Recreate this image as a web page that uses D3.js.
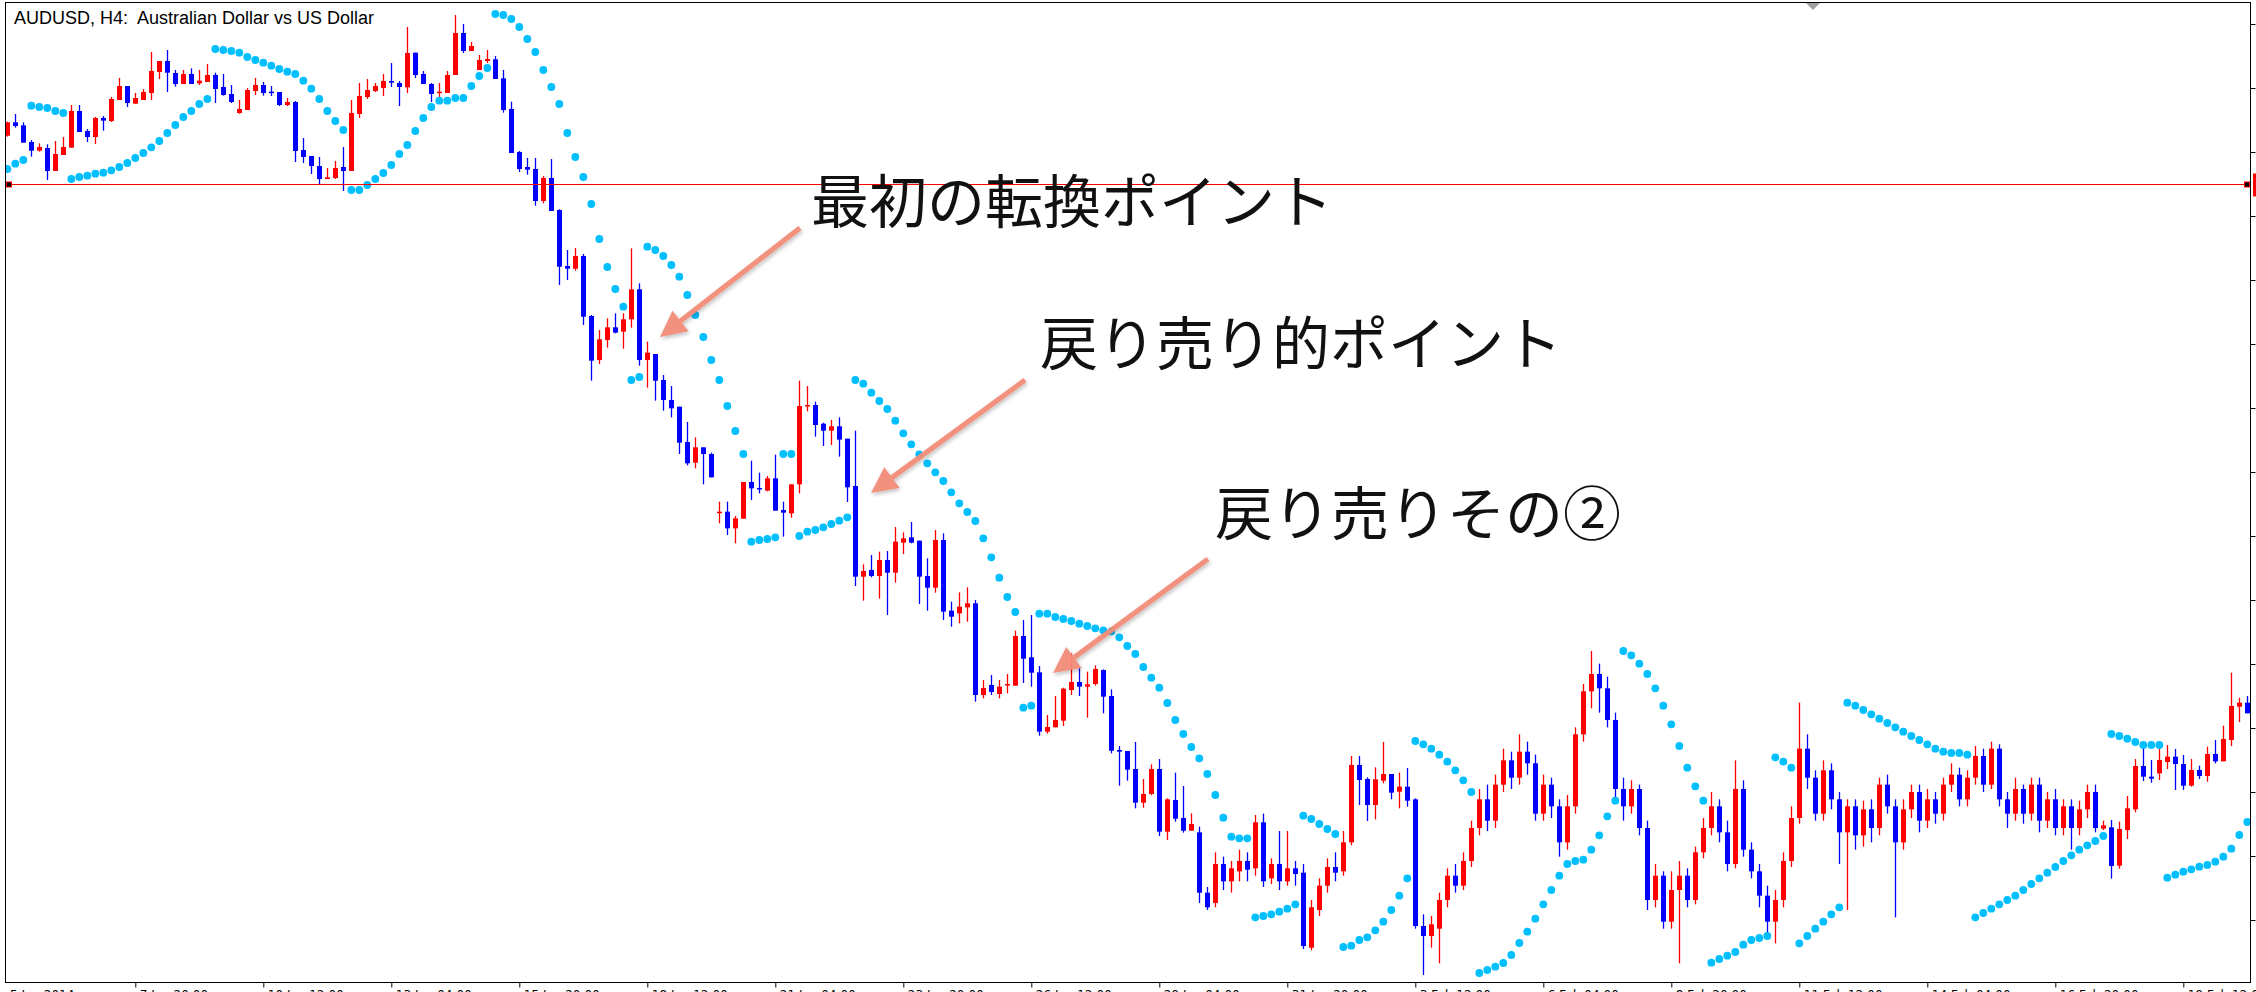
<!DOCTYPE html>
<html><head><meta charset="utf-8">
<script src="https://cdn.jsdelivr.net/npm/d3@7/dist/d3.min.js"></script>
<style>html,body{margin:0;padding:0;background:#fff;overflow:hidden}</style>
</head><body>
<svg id="chart" width="2256" height="992"></svg>
<script>
const opens = [.89593,.89633,.89624,.89574,.89548,.89556,.89487,.89535,.89557,.89667,
.89607,.89589,.89646,.89637,.89700,.89742,.89689,.89700,.89721,.89784,
.89817,.89781,.89748,.89778,.89750,.89754,.89775,.89739,.89718,.89661,
.89670,.89727,.89745,.89725,.89724,.89685,.89694,.89550,.89532,.89502,
.89463,.89466,.89499,.89487,.89658,.89709,.89727,.89736,.89757,.89751,
.89738,.89842,.89778,.89748,.89721,.89721,.89775,.89901,.89847,.89790,
.89817,.89822,.89765,.89673,.89544,.89499,.89493,.89397,.89466,.89370,
.89202,.89194,.89232,.89052,.88920,.88980,.89018,.89005,.89042,.89132,
.88920,.88938,.88860,.88800,.88780,.88674,.88612,.88658,.88638,.88462,
.88465,.88415,.88444,.88554,.88536,.88528,.88565,.88470,.88460,.88547,
.88782,.88785,.88729,.88708,.88721,.88684,.88542,.88270,.88290,.88272,
.88320,.88282,.88372,.88388,.88378,.88272,.88237,.88380,.88168,.88160,
.88178,.88190,.87915,.87945,.87918,.87945,.87943,.88092,.88028,.87983,
.87805,.87818,.87838,.87930,.87954,.87940,.87948,.87990,.87912,.87750,
.87747,.87693,.87592,.87618,.87693,.87505,.87600,.87546,.87508,
.87503,.87322,.87291,.87408,.87356,.87386,.87417,.87395,.87533,.87365,
.87408,.87356,.87395,.87382,.87157,.87270,.87343,.87399,.87386,.87473,
.87705,.87663,.87585,.87658,.87678,.87625,.87640,.87602,.87222,.87192,
.87214,.87300,.87373,.87343,.87417,.87516,.87602,.87538,.87646,.87719,
.87667,.87745,.87710,.87559,.87646,.87581,.87473,.87581,.87797,.87926,
.87978,.87935,.87840,.87633,.87581,.87633,.87516,.87300,.87373,.87235,
.87330,.87373,.87300,.87443,.87516,.87581,.87503,.87408,.87633,.87451,
.87386,.87313,.87235,.87300,.87417,.87546,.87754,.87667,.87559,.87689,
.87602,.87503,.87581,.87494,.87572,.87516,.87646,.87581,.87473,.87572,
.87624,.87538,.87602,.87559,.87646,.87676,.87602,.87667,.87732,.87646,
.87754,.87602,.87559,.87633,.87559,.87646,.87538,.87602,.87516,.87581,
.87516,.87572,.87624,.87514,.87518,.87403,.87510,.87572,.87702,.87670,
.87680,.87714,.87730,.87708,.87643,.87690,.87672,.87738,.87716,.87780,
.87880,.87892];
const closes = [.89633,.89622,.89572,.89548,.89559,.89487,.89538,.89559,.89667,.89604,
.89589,.89646,.89638,.89703,.89742,.89691,.89706,.89724,.89787,.89817,
.89782,.89748,.89778,.89748,.89758,.89775,.89733,.89715,.89694,.89673,
.89730,.89745,.89721,.89723,.89685,.89694,.89547,.89529,.89502,.89463,
.89468,.89496,.89487,.89661,.89712,.89730,.89742,.89757,.89752,.89739,
.89841,.89775,.89748,.89718,.89725,.89775,.89901,.89847,.89862,.89820,
.89823,.89763,.89670,.89541,.89493,.89491,.89397,.89466,.89367,.89200,
.89194,.89232,.89050,.88918,.88982,.89018,.89002,.89042,.89132,.88920,
.88942,.88858,.88800,.88775,.88672,.88610,.88658,.88638,.88568,.88465,
.88415,.88445,.88554,.88535,.88532,.88565,.88468,.88462,.88547,.88782,
.88785,.88725,.88708,.88721,.88681,.88538,.88270,.88287,.88272,.88320,
.88282,.88375,.88385,.88372,.88270,.88237,.88380,.88165,.88150,.88180,
.88190,.87915,.87936,.87924,.87940,.87948,.88092,.88024,.87982,.87805,
.87819,.87840,.87934,.87954,.87940,.87947,.87993,.87910,.87748,.87745,
.87691,.87592,.87618,.87693,.87505,.87602,.87544,.87508,.87528,
.87322,.87278,.87408,.87356,.87395,.87417,.87391,.87533,.87356,.87408,
.87356,.87395,.87378,.87162,.87278,.87343,.87399,.87382,.87473,.87705,
.87660,.87585,.87662,.87678,.87622,.87640,.87598,.87222,.87192,.87227,
.87300,.87373,.87343,.87417,.87516,.87602,.87538,.87646,.87719,.87667,
.87745,.87710,.87559,.87646,.87581,.87473,.87581,.87797,.87926,.87978,
.87935,.87840,.87633,.87581,.87633,.87516,.87300,.87373,.87235,.87330,
.87373,.87300,.87443,.87516,.87581,.87503,.87408,.87633,.87451,.87386,
.87313,.87235,.87300,.87417,.87546,.87754,.87667,.87559,.87689,.87602,
.87503,.87581,.87494,.87572,.87516,.87646,.87581,.87473,.87572,.87624,
.87538,.87602,.87559,.87646,.87676,.87602,.87667,.87732,.87646,.87754,
.87602,.87559,.87633,.87559,.87646,.87538,.87602,.87516,.87581,.87516,
.87572,.87624,.87516,.87524,.87402,.87513,.87575,.87702,.87670,.87664,
.87720,.87730,.87708,.87643,.87690,.87672,.87738,.87716,.87783,.87882,
.87892,.87860];
const highs = [.89635,.89658,.89633,.89580,.89570,.89567,.89577,.89589,.89685,.89685,
.89613,.89649,.89652,.89709,.89766,.89742,.89721,.89733,.89844,.89817,
.89850,.89790,.89790,.89795,.89790,.89808,.89782,.89778,.89745,.89700,
.89736,.89766,.89754,.89742,.89724,.89706,.89697,.89586,.89532,.89529,
.89496,.89517,.89559,.89700,.89751,.89763,.89751,.89778,.89811,.89757,
.89919,.89842,.89787,.89751,.89751,.89787,.89955,.89928,.89874,.89835,
.89850,.89832,.89790,.89695,.89547,.89526,.89526,.89472,.89523,.89372,
.89250,.89256,.89238,.89055,.89010,.89045,.89060,.89060,.89255,.89150,
.88975,.88938,.88875,.88842,.88780,.88734,.88688,.88658,.88642,.88495,
.88495,.88452,.88554,.88618,.88582,.88572,.88636,.88495,.88547,.88858,
.88842,.88795,.88732,.88740,.88748,.88684,.88708,.88307,.88335,.88345,
.88347,.88419,.88403,.88434,.88378,.88325,.88410,.88400,.88195,.88223,
.88238,.88200,.87960,.87975,.87960,.87978,.88108,.88140,.88155,.88002,
.87855,.87912,.87937,.88040,.87998,.87985,.88004,.87992,.87932,.87762,
.87747,.87774,.87663,.87707,.87723,.87605,.87682,.87642,.87560,
.87520,.87339,.87443,.87430,.87417,.87451,.87443,.87555,.87559,.87425,
.87507,.87507,.87417,.87408,.87300,.87365,.87425,.87443,.87507,.87732,
.87732,.87668,.87698,.87774,.87678,.87682,.87696,.87605,.87257,.87252,
.87322,.87395,.87408,.87443,.87538,.87633,.87646,.87676,.87754,.87745,
.87797,.87775,.87736,.87676,.87667,.87602,.87615,.87818,.87948,.88047,
.88009,.87970,.87862,.87667,.87659,.87646,.87538,.87408,.87386,.87386,
.87417,.87395,.87460,.87546,.87624,.87602,.87538,.87719,.87659,.87473,
.87408,.87343,.87330,.87443,.87581,.87892,.87797,.87689,.87719,.87710,
.87624,.87602,.87602,.87598,.87602,.87667,.87676,.87602,.87602,.87646,
.87646,.87633,.87624,.87667,.87710,.87697,.87689,.87762,.87754,.87775,
.87767,.87624,.87667,.87646,.87667,.87667,.87624,.87633,.87602,.87602,
.87598,.87646,.87646,.87538,.87540,.87535,.87612,.87723,.87755,.87720,
.87755,.87765,.87753,.87735,.87723,.87703,.87760,.87780,.87823,.87982,
.87907,.87912];
const lows = [.89590,.89617,.89572,.89530,.89545,.89460,.89487,.89535,.89557,.89604,
.89574,.89568,.89608,.89634,.89700,.89679,.89689,.89700,.89700,.89763,
.89724,.89740,.89748,.89748,.89745,.89754,.89691,.89713,.89691,.89659,
.89670,.89715,.89713,.89712,.89682,.89682,.89514,.89511,.89478,.89448,
.89463,.89463,.89427,.89487,.89646,.89703,.89724,.89712,.89739,.89682,
.89721,.89766,.89748,.89694,.89694,.89721,.89775,.89841,.89847,.89790,
.89811,.89763,.89662,.89541,.89484,.89476,.89383,.89390,.89367,.89145,
.89160,.89188,.89025,.88858,.88908,.88957,.89000,.88954,.89017,.88903,
.88837,.88798,.88768,.88748,.88638,.88604,.88595,.88547,.88568,.88430,
.88395,.88370,.88444,.88500,.88520,.88526,.88468,.88390,.88447,.88520,
.88766,.88690,.88662,.88665,.88630,.88494,.88242,.88198,.88268,.88204,
.88155,.88252,.88338,.88370,.88188,.88168,.88222,.88140,.88120,.88130,
.88135,.87895,.87905,.87915,.87905,.87920,.87943,.87951,.87940,.87793,
.87799,.87818,.87822,.87915,.87912,.87847,.87943,.87860,.87740,.87643,
.87658,.87575,.87577,.87614,.87492,.87480,.87535,.87502,.87508,
.87291,.87270,.87278,.87330,.87322,.87356,.87356,.87373,.87339,.87348,
.87330,.87343,.87343,.87153,.87149,.87252,.87322,.87356,.87373,.87464,
.87585,.87537,.87542,.87650,.87602,.87575,.87580,.87214,.87075,.87157,
.87110,.87278,.87322,.87330,.87399,.87494,.87507,.87516,.87624,.87633,
.87646,.87676,.87538,.87538,.87546,.87430,.87451,.87559,.87775,.87875,
.87862,.87818,.87602,.87538,.87559,.87494,.87270,.87278,.87214,.87214,
.87110,.87278,.87287,.87425,.87494,.87473,.87386,.87395,.87430,.87365,
.87278,.87201,.87170,.87278,.87399,.87529,.87633,.87538,.87538,.87572,
.87408,.87270,.87451,.87460,.87473,.87494,.87559,.87248,.87451,.87546,
.87503,.87516,.87529,.87538,.87624,.87581,.87581,.87646,.87624,.87633,
.87581,.87516,.87538,.87529,.87538,.87503,.87516,.87494,.87494,.87451,
.87494,.87546,.87503,.87510,.87364,.87394,.87483,.87563,.87657,.87652,
.87660,.87693,.87630,.87630,.87640,.87663,.87655,.87710,.87716,.87762,
.87834,.87860];
const sar = [.89493,.89509,.89520,.89683,.89679,.89676,.89667,.89661,.89463,.89469,
.89473,.89479,.89482,.89489,.89499,.89511,.89526,.89541,.89558,.89577,
.89601,.89625,.89649,.89667,.89688,.89703,.89853,.89850,.89847,.89842,
.89829,.89820,.89812,.89803,.89793,.89785,.89778,.89758,.89734,.89703,
.89667,.89637,.89610,.89430,.89430,.89445,.89463,.89481,.89505,.89538,
.89565,.89607,.89646,.89679,.89698,.89698,.89706,.89706,.89742,.89772,
.89796,.89958,.89955,.89943,.89919,.89883,.89844,.89790,.89739,.89688,
.89601,.89529,.89469,.89388,.89283,.89199,.89133,.89080,.88860,.88869,
.89260,.89250,.89232,.89205,.89170,.89115,.89055,.88989,.88920,.88860,
.88782,.88707,.88638,.88375,.88380,.88383,.88388,.88638,.88638,.88392,
.88405,.88410,.88418,.88428,.88438,.88448,.88860,.88849,.88822,.88797,
.88773,.88738,.88700,.88667,.88637,.88610,.88583,.88557,.88523,.88490,
.88464,.88437,.88385,.88328,.88267,.88209,.88164,.87877,.87883,.88159,
.88159,.88149,.88143,.88137,.88129,.88122,.88115,.88109,.88106,.88088,
.88062,.88038,.87999,.87967,.87937,.87891,.87840,.87798,.87759,
.87725,.87678,.87615,.87547,.87490,.87485,.87485,.87248,.87252,.87257,
.87265,.87274,.87287,.87553,.87543,.87528,.87513,.87498,.87159,.87163,
.87180,.87188,.87209,.87235,.87270,.87313,.87365,.87777,.87767,.87754,
.87736,.87715,.87689,.87659,.87624,.87081,.87090,.87100,.87111,.87135,
.87171,.87205,.87244,.87287,.87330,.87373,.87408,.87417,.87421,.87451,
.87494,.87551,.87598,.88047,.88034,.88009,.87978,.87935,.87883,.87827,
.87762,.87697,.87641,.87598,.87112,.87123,.87133,.87144,.87166,.87180,
.87186,.87192,.87728,.87715,.87697,.87170,.87192,.87214,.87235,.87257,
.87278,.87892,.87883,.87870,.87857,.87844,.87831,.87818,.87805,.87792,
.87780,.87767,.87754,.87745,.87741,.87741,.87736,.87248,.87261,.87274,
.87287,.87300,.87313,.87330,.87348,.87365,.87382,.87399,.87417,.87434,
.87451,.87464,.87477,.87492,.87798,.87792,.87784,.87774,.87765,.87765,
.87765,.87367,.87376,.87385,.87392,.87400,.87405,.87415,.87430,.87454,
.87495,.87534];
const yTicks = [.89928,.89736,.89544,.89352,.89160,.88968,.88776,.88584,.88392,.88200,.88008,.87816,.87624,.87432,.87240];
const xTickBars = [16,32,48,64,80,96,112,128,144,160,176,192,208,224,240,256,272];
const xTickLabels = ["7 Jan 20:00","10 Jan 12:00","13 Jan 04:00","15 Jan 20:00","18 Jan 12:00","21 Jan 04:00","23 Jan 20:00","26 Jan 12:00","29 Jan 04:00","31 Jan 20:00","3 Feb 12:00","6 Feb 04:00","8 Feb 20:00","11 Feb 12:00","14 Feb 04:00","16 Feb 20:00","19 Feb 12:00"];
const firstLabel = "5 Jan 2014";
const hLinePrice = 0.89448;
const title = "AUDUSD, H4:  Australian Dollar vs US Dollar";
const notes = ["最初の転換ポイント","戻り売り的ポイント","戻り売りその②"];

const W = 2256, H = 992;
const L = 6, R = 2250, T = 3, B = 982;
const svg = d3.select("#chart");
const x = d3.scaleLinear().domain([0, 280]).range([7.3, 2247.3]);
const y = d3.scaleLinear().domain([0.90000, 0.87024]).range([0, 992]);
const cx = i => Math.round(x(i)) + 0.5;

const defs = svg.append("defs");
const f = defs.append("filter").attr("id","sh").attr("x","-20%").attr("y","-20%").attr("width","140%").attr("height","140%");
f.append("feDropShadow").attr("dx",1).attr("dy",2).attr("stdDeviation",2.2).attr("flood-color","#000").attr("flood-opacity",0.28);
defs.append("clipPath").attr("id","plot").append("rect").attr("x",L).attr("y",T).attr("width",R-L).attr("height",B-T);

svg.append("rect").attr("width",W).attr("height",H).attr("fill","#fff");

const plot = svg.append("g").attr("clip-path","url(#plot)");
const idx = d3.range(opens.length);
const col = i => closes[i] >= opens[i] ? "#ff0000" : "#0000ff";

plot.selectAll("line.wick").data(idx).join("line").attr("class","wick")
  .attr("x1",cx).attr("x2",cx)
  .attr("y1",i=>y(highs[i])).attr("y2",i=>y(lows[i]))
  .attr("stroke",col).attr("stroke-width",1.3);
plot.selectAll("rect.body").data(idx).join("rect").attr("class","body")
  .attr("x",i=>cx(i)-2.5).attr("width",5)
  .attr("y",i=>y(Math.max(opens[i],closes[i])))
  .attr("height",i=>Math.max(1.5, Math.abs(y(opens[i])-y(closes[i]))))
  .attr("fill",col);

plot.selectAll("circle.sar").data(idx.filter(i=>sar[i]!=null)).join("circle").attr("class","sar")
  .attr("cx",i=>x(i)).attr("cy",i=>y(sar[i])).attr("r",3.9).attr("fill","#00bfff");

// horizontal line
const hy = Math.round(y(hLinePrice)) + 0.5;
svg.append("line").attr("x1",L).attr("x2",R).attr("y1",hy).attr("y2",hy).attr("stroke","#ff0000").attr("stroke-width",1.2);
[L+3, R-3].forEach(px=>{
  svg.append("rect").attr("x",px-2.5).attr("y",hy-2.5).attr("width",5).attr("height",5).attr("fill","#000").attr("stroke","#ff0000").attr("stroke-width",1);
});
svg.append("rect").attr("x",2253).attr("y",hy-11).attr("width",6).attr("height",23).attr("fill","#ff0000");

// frame
svg.append("rect").attr("x",L-0.5).attr("y",T-0.5).attr("width",R-L+1).attr("height",B-T+1).attr("fill","none").attr("stroke","#000").attr("stroke-width",1);

// axes (price labels fall outside the window, as in the reference)
const yAxis = d3.axisRight(y).tickValues(yTicks).tickSize(5).tickSizeOuter(0).tickFormat("");
const ga = svg.append("g").attr("transform",`translate(${R+0.5},0)`).call(yAxis);
ga.select(".domain").remove();
ga.selectAll("line").attr("stroke","#000");

const xAxis = d3.axisBottom(x).tickValues(xTickBars).tickSize(5).tickSizeOuter(0).tickFormat((d,k)=>xTickLabels[k]);
const gx = svg.append("g").attr("transform",`translate(0,${B+0.5})`).call(xAxis);
gx.select(".domain").remove();
gx.selectAll(".tick line").attr("stroke","#000");
gx.selectAll(".tick text").attr("text-anchor","start").attr("dx",4).attr("y",8).attr("dy","0.71em")
  .attr("font-family","Tahoma, 'DejaVu Sans', sans-serif").attr("font-size",12).attr("fill","#000");
svg.append("text").attr("x",L+4).attr("y",B+8).attr("dy","0.71em").attr("font-family","Tahoma, 'DejaVu Sans', sans-serif").attr("font-size",12).text(firstLabel);

// chart shift marker
svg.append("path").attr("d","M1806,3 L1820,3 L1813,10 Z").attr("fill","#a0a0a0");

// title
svg.append("text").attr("x",14).attr("y",24).attr("font-family","'Liberation Sans', Arial, sans-serif")
  .attr("font-size",18).attr("fill","#000").style("white-space","pre").text(title);

// annotations
const ann = [
  {t:notes[0], tx:811, ty:223, a:[800,228], b:[660,337]},
  {t:notes[1], tx:1040, ty:365, a:[1025,380], b:[871,493]},
  {t:notes[2], tx:1215, ty:535, a:[1208,559], b:[1053,673]}
];
ann.forEach(d=>{
  const [x1,y1]=d.a, [x2,y2]=d.b;
  const dx=x2-x1, dy=y2-y1, len=Math.hypot(dx,dy), ux=dx/len, uy=dy/len, px=-uy, py=ux;
  const hl=26, hw=13, sw=2.6;
  const bx=x2-ux*hl, by=y2-uy*hl;
  const pts=[[x1+px*sw,y1+py*sw],[bx+px*sw,by+py*sw],[bx+px*hw,by+py*hw],[x2,y2],[bx-px*hw,by-py*hw],[bx-px*sw,by-py*sw],[x1-px*sw,y1-py*sw]];
  svg.append("path").attr("d","M"+pts.map(p=>p.join(",")).join("L")+"Z")
    .attr("fill","#f28c78").attr("opacity",0.95).attr("filter","url(#sh)");
  svg.append("text").attr("x",d.tx).attr("y",d.ty).attr("font-family","'Noto Sans CJK JP', sans-serif")
    .attr("font-size",58).attr("fill","#111").text(d.t);
});
</script>
</body></html>
